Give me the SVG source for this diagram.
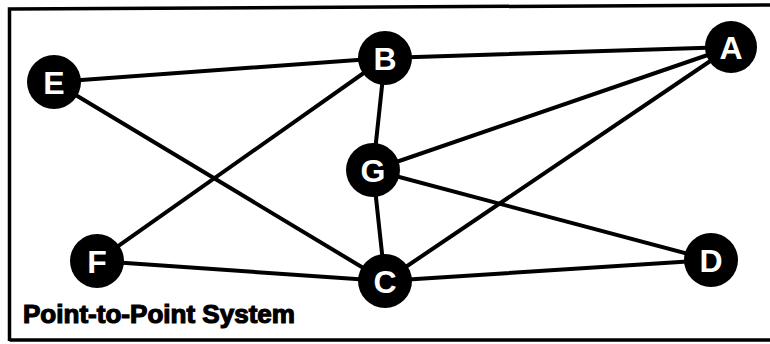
<svg xmlns="http://www.w3.org/2000/svg" width="770" height="344" viewBox="0 0 770 344">
<style>
.edge{stroke:#000;stroke-width:4;stroke-linecap:round}
.node circle{fill:#000}
.node text{fill:#fff;font-family:"Liberation Sans",Arial,sans-serif;font-weight:bold;font-size:32px;text-anchor:middle}
.title{fill:#000;stroke:#000;stroke-width:1.2;font-family:"Liberation Sans",Arial,sans-serif;font-weight:bold;font-size:26px}
</style>
<rect x="0" y="0" width="770" height="344" fill="#fff"/>
<path d="M9.5,341 L9.5,9 L770,5 M9.5,340 L770,340" fill="none" stroke="#000" stroke-width="3.5"/>
<g id="connectors">
<line class="edge" x1="54" y1="82" x2="385" y2="58"/>
<line class="edge" x1="54" y1="82" x2="385" y2="281"/>
<line class="edge" x1="385" y1="58" x2="731" y2="47"/>
<line class="edge" x1="385" y1="58" x2="373" y2="170"/>
<line class="edge" x1="385" y1="58" x2="97" y2="261"/>
<line class="edge" x1="373" y1="170" x2="731" y2="47"/>
<line class="edge" x1="373" y1="170" x2="385" y2="281"/>
<line class="edge" x1="373" y1="170" x2="711" y2="260"/>
<line class="edge" x1="385" y1="281" x2="731" y2="47"/>
<line class="edge" x1="385" y1="281" x2="97" y2="261"/>
<line class="edge" x1="385" y1="281" x2="711" y2="260"/>
</g>
<g id="node-E" class="node"><circle cx="54" cy="82" r="27"/><text x="54" y="93.5">E</text></g>
<g id="node-B" class="node"><circle cx="385" cy="58" r="27"/><text x="385" y="69.5">B</text></g>
<g id="node-A" class="node"><circle cx="731" cy="47" r="26"/><text x="731" y="58.5">A</text></g>
<g id="node-G" class="node"><circle cx="373" cy="170" r="27"/><text x="373" y="181.5">G</text></g>
<g id="node-F" class="node"><circle cx="97" cy="261" r="27"/><text x="97" y="272.5">F</text></g>
<g id="node-C" class="node"><circle cx="385" cy="281" r="27"/><text x="385" y="292.5">C</text></g>
<g id="node-D" class="node"><circle cx="711" cy="260" r="27"/><text x="711" y="271.5">D</text></g>
<text class="title" x="23" y="323" textLength="272" lengthAdjust="spacingAndGlyphs">Point-to-Point System</text>
</svg>
